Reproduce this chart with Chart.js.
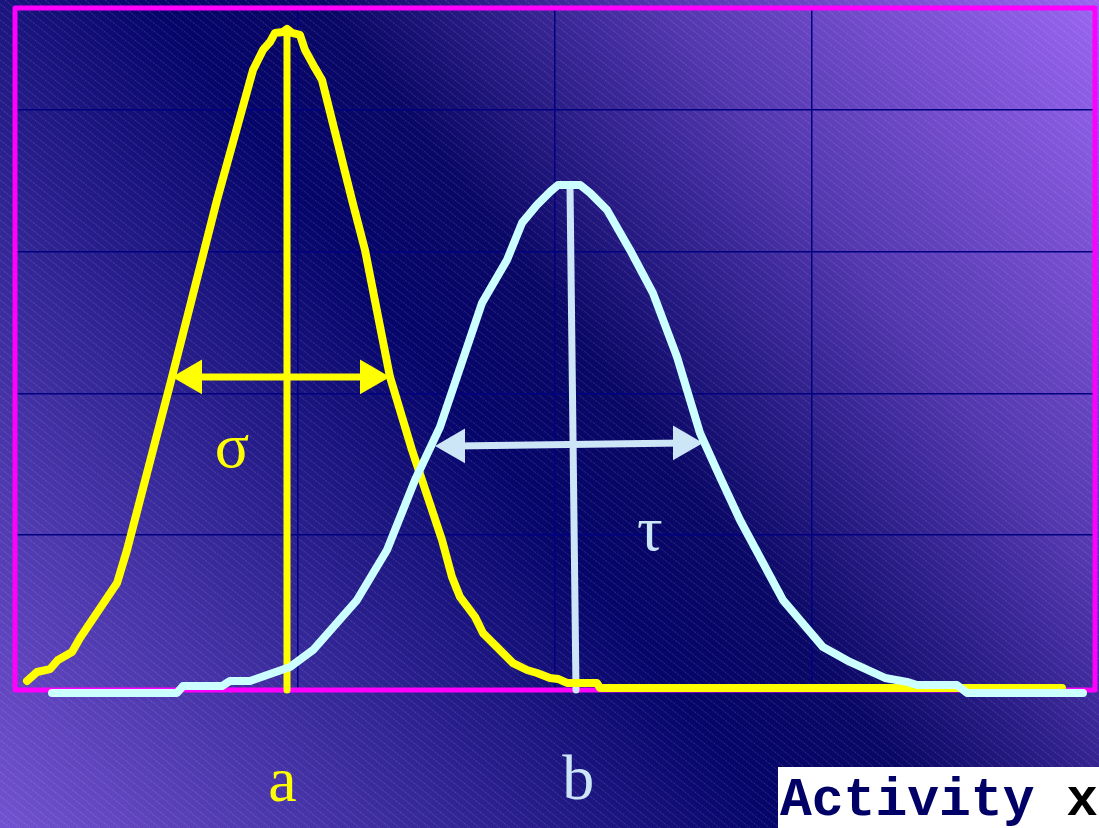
<!DOCTYPE html>
<html>
<head>
<meta charset="utf-8">
<script src="https://cdn.jsdelivr.net/npm/chart.js@4.4.1/dist/chart.umd.min.js"></script>
<style>
    html, body { margin: 0; padding: 0; background: #1a1470; }
    #wrap { width: 1099px; height: 828px; }
</style>
</head>
<body>
<div id="wrap"><canvas id="chart" width="1099" height="828"></canvas></div>
<script>
// Curva amarela (distribuição a)
const yellowX = [0.467, 0.856, 1.361, 1.672, 2.217, 2.528, 3.967, 4.356, 4.861, 6.106, 7.856, 9.256, 9.644, 9.917, 10.111, 10.422, 10.578,
    10.772, 11.083, 11.278, 11.667, 11.939, 13.106, 13.611, 14.583, 15.439, 15.867, 16.606, 16.994, 17.306, 17.889, 18.2, 19.367,
    19.911, 20.3, 20.806, 21.117, 21.467, 22.633, 22.75, 40.717];
const yellowY = [-0.30, 0.33, 0.54, 1.18, 1.74, 2.73, 6.61, 8.94, 12.47, 21.16, 33.65, 42.82, 44.24, 44.80, 45.44, 45.51, 45.72,
    45.44, 45.30, 44.24, 42.96, 42.12, 33.65, 30.12, 21.16, 16.0, 13.67, 9.65, 7.04, 5.63, 4.22, 3.08, 0.96,
    0.47, 0.26, -0.09, -0.16, -0.44, -0.44, -0.80, -0.80];

// Curva azul clara (distribuição b)
const cyanX = [1.439, 6.3, 6.533, 8.05, 8.361, 9.139, 10.694, 11.589, 13.3, 14.467, 15.556, 16.528, 18.161, 19.133, 19.717,
    20.3, 20.806, 21.117, 21.583, 21.972, 22.361, 23.022, 23.917, 24.811, 25.744, 26.639, 27.417, 28.194, 29.867, 31.422,
    32.472, 33.833, 34.689, 35.078, 36.633, 37.022, 41.533];
const cyanY = [-1.15, -1.15, -0.66, -0.66, -0.30, -0.30, 0.68, 1.88, 5.41, 8.94, 13.88, 17.62, 26.38, 29.41, 32.03,
    33.30, 34.22, 34.71, 34.71, 34.71, 34.15, 32.95, 30.12, 27.08, 22.57, 17.20, 14.09, 11.06, 5.41, 2.09,
    1.04, -0.09, -0.37, -0.59, -0.59, -1.15, -1.15];

// Linhas verticais (médias a e b)
const aLineX = [10.578, 10.578];
const aLineY = [-0.94, 45.5];
const bLineX = [21.817, 21.583];
const bLineY = [-0.94, 34.71];

// Setas de largura (sigma e tau)
const sigmaArrowX = [6.883, 13.806];
const sigmaArrowY = [21.16, 21.16];
const tauArrowX = [17.111, 25.978];
const tauArrowY = [16.29, 16.50];

// Grade
const gridX = [11, 21, 31];
const gridY = [10, 20, 30, 40];

// Rótulos
const labelText = ['σ', 'τ', 'a', 'b'];
const labelX = [8.44, 24.69, 10.4, 21.9];
const labelY = [14.8, 8.94, -8.8, -8.6];
const axisTitle = ['Activity ', 'x'];

function points(xs, ys) {
    return xs.map(function (x, i) { return { x: x, y: ys[i] }; });
}

// Fundo com gradiente e hachura
const backdrop = {
    id: 'backdrop',
    beforeDraw(chart) {
        const { ctx, width, height } = chart;
        ctx.save();
        const g = ctx.createLinearGradient(0, height, width, 0);
        g.addColorStop(0, '#7252d0');
        g.addColorStop(0.22, '#3e2ea0');
        g.addColorStop(0.45, '#05056a');
        g.addColorStop(0.55, '#0a0866');
        g.addColorStop(0.75, '#5438b0');
        g.addColorStop(1, '#9a66f0');
        ctx.fillStyle = g;
        ctx.fillRect(0, 0, width, height);
        ctx.strokeStyle = 'rgba(255,255,255,0.22)';
        ctx.lineWidth = 1;
        ctx.setLineDash([1, 1]);
        const slope = 0.8;
        for (let x0 = -height / slope; x0 < width; x0 += 10) {
            ctx.beginPath();
            ctx.moveTo(x0, 0);
            ctx.lineTo(x0 + height / slope, height);
            ctx.stroke();
        }
        ctx.restore();
    }
};

// Moldura magenta
const frame = {
    id: 'frame',
    beforeDatasetsDraw(chart) {
        const { ctx, chartArea: a } = chart;
        ctx.save();
        ctx.strokeStyle = '#ff00ff';
        ctx.lineWidth = 5;
        ctx.lineJoin = 'round';
        ctx.lineCap = 'round';
        ctx.strokeRect(a.left, a.top, a.right - a.left, a.bottom - a.top);
        ctx.restore();
    }
};

// Rótulos de texto
const labels = {
    id: 'labels',
    afterDatasetsDraw(chart) {
        const { ctx, scales } = chart;
        const colors = ['#ffff00', '#cce6f8', '#ffff00', '#cce6f8'];
        ctx.save();
        ctx.textAlign = 'center';
        ctx.textBaseline = 'alphabetic';
        ctx.font = '64px "Liberation Serif", "DejaVu Serif", serif';
        labelText.forEach(function (t, i) {
            ctx.fillStyle = colors[i];
            ctx.fillText(t, scales.x.getPixelForValue(labelX[i]), scales.y.getPixelForValue(labelY[i]));
        });
        // caixa do título do eixo
        ctx.fillStyle = '#ffffff';
        ctx.fillRect(778, 767, 321, 61);
        ctx.textAlign = 'left';
        ctx.font = 'bold 53px "Liberation Mono", "DejaVu Sans Mono", monospace';
        ctx.fillStyle = '#000066';
        ctx.fillText(axisTitle[0], 780, 815);
        const w = ctx.measureText(axisTitle[0]).width;
        ctx.fillStyle = '#000000';
        ctx.fillText(axisTitle[1], 780 + w, 815);
        ctx.restore();
    }
};

const lineBase = {
    showLine: true,
    tension: 0,
    fill: false,
    clip: false,
    pointRadius: 0,
    borderCapStyle: 'round',
    borderJoinStyle: 'round'
};

let ctx = document.getElementById('chart').getContext('2d');
let myChart = new Chart(ctx, {
    type: 'scatter',
    data: {
        datasets: [
            Object.assign({}, lineBase, { data: points(cyanX, cyanY), borderColor: '#ccffff', borderWidth: 8 }),
            Object.assign({}, lineBase, { data: points(yellowX, yellowY), borderColor: '#ffff00', borderWidth: 8 }),
            Object.assign({}, lineBase, { data: points(aLineX, aLineY), borderColor: '#ffff00', borderWidth: 7 }),
            Object.assign({}, lineBase, { data: points(bLineX, bLineY), borderColor: '#cce6f8', borderWidth: 7 }),
            Object.assign({}, lineBase, {
                data: points(sigmaArrowX, sigmaArrowY), borderColor: '#ffff00', borderWidth: 7,
                pointStyle: 'triangle', pointRadius: 20, pointRotation: [-90, 90],
                pointBackgroundColor: '#ffff00', pointBorderWidth: 0
            }),
            Object.assign({}, lineBase, {
                data: points(tauArrowX, tauArrowY), borderColor: '#cce6f8', borderWidth: 7,
                pointStyle: 'triangle', pointRadius: 20, pointRotation: [-90, 90],
                pointBackgroundColor: '#cce6f8', pointBorderWidth: 0
            })
        ]
    },
    options: {
        responsive: false,
        animation: false,
        events: [],
        layout: { autoPadding: false, padding: { left: 15, top: 8, right: 4, bottom: 138 } },
        plugins: { legend: { display: false }, tooltip: { enabled: false } },
        scales: {
            x: {
                type: 'linear', min: 0, max: 42,
                afterBuildTicks: function (axis) { axis.ticks = gridX.map(function (v) { return { value: v }; }); },
                ticks: { display: false },
                border: { display: false },
                grid: { color: '#000080', lineWidth: 1.5, drawTicks: false }
            },
            y: {
                type: 'linear', min: -0.94, max: 47.2,
                afterBuildTicks: function (axis) { axis.ticks = gridY.map(function (v) { return { value: v }; }); },
                ticks: { display: false },
                border: { display: false },
                grid: { color: '#000080', lineWidth: 1.5, drawTicks: false }
            }
        }
    },
    plugins: [backdrop, frame, labels]
});
</script>
</body>
</html>
